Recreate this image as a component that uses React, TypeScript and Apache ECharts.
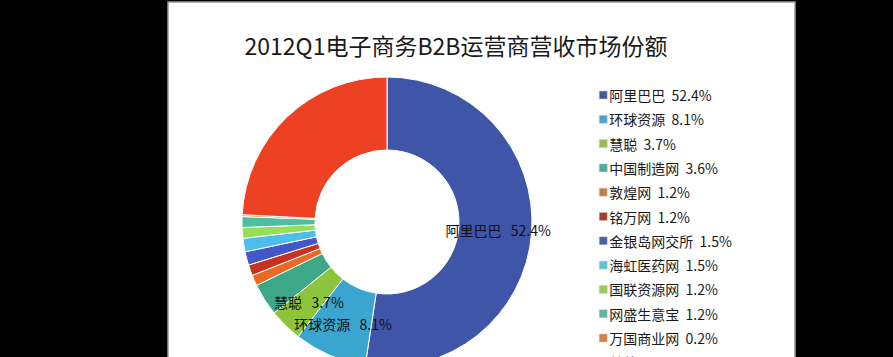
import React, { useEffect, useRef } from "react";
import * as echarts from "echarts";

const titleText = "2012Q1电子商务B2B运营商营收市场份额";
const categories = [
  "阿里巴巴",
  "环球资源",
  "慧聪",
  "中国制造网",
  "敦煌网",
  "铭万网",
  "金银岛网交所",
  "海虹医药网",
  "国联资源网",
  "网盛生意宝",
  "万国商业网",
  "其他",
];
const shares = [52.4, 8.1, 3.7, 3.6, 1.2, 1.2, 1.5, 1.5, 1.2, 1.2, 0.2, 24.2];
const sliceColors = [
  "#3f56a8",
  "#3aa6d0",
  "#8cc43c",
  "#3da888",
  "#e86a25",
  "#c8321e",
  "#4457c8",
  "#4dbdeb",
  "#98dd58",
  "#4dbfa0",
  "#e8782f",
  "#ee4022",
];
const legendColors = [
  "#3f5a9a",
  "#4fa3c8",
  "#9bbb59",
  "#4bac98",
  "#c0804a",
  "#a33b2f",
  "#4a5fa0",
  "#66c1d1",
  "#9ccb5a",
  "#5cb5a5",
  "#d4824a",
  "#d8493a",
];
const labelled = ["阿里巴巴", "环球资源", "慧聪"];

export default function App() {
  const ref = useRef<HTMLDivElement>(null);
  useEffect(() => {
    document.body.style.margin = "0";
    document.body.style.background = "#000";
    if (!ref.current) return;
    const chart = echarts.init(ref.current, null, { renderer: "svg" });
    const font = '"Noto Sans CJK SC", "Noto Sans", sans-serif';
    const valueOf: Record<string, number> = {};
    categories.forEach((c, i) => (valueOf[c] = shares[i]));
    chart.setOption({
      animation: false,
      backgroundColor: "#000",
      graphic: [
        {
          type: "rect",
          z: -10,
          shape: { x: 168, y: 2, width: 627, height: 370 },
          style: { fill: "#fff", stroke: "#9a9a9a", lineWidth: 1.5 },
        },
      ],
      title: {
        text: titleText,
        left: 451,
        textAlign: "center",
        top: 28,
        textStyle: {
          fontFamily: font,
          fontSize: 23,
          fontWeight: "normal",
          color: "#1a1a1a",
        },
      },
      legend: {
        orient: "vertical",
        left: 594,
        top: 83,
        height: 600,
        itemWidth: 8,
        itemHeight: 8,
        itemGap: 10.3,
        icon: "rect",
        textStyle: {
          fontFamily: font,
          fontSize: 14,
          lineHeight: 14,
          color: "#1a1a1a",
          padding: [0, 0, 0, -3],
        },
        formatter: (name: string) => `${name}  ${valueOf[name].toFixed(1)}%`,
        data: categories.map((c, i) => ({
          name: c,
          itemStyle: { color: legendColors[i], borderColor: "#ccc", borderWidth: 0.5 },
        })),
      },
      series: [
        {
          type: "pie",
          center: [387, 222],
          radius: [72, 145],
          startAngle: 90,
          clockwise: true,
          avoidLabelOverlap: false,
          labelLine: { show: false },
          itemStyle: { borderColor: "#fff", borderWidth: 1 },
          label: {
            show: true,
            position: "inside",
            fontFamily: font,
            fontSize: 14,
            color: "#111",
            formatter: (p: any) =>
              labelled.includes(p.name) ? `${p.name}   ${p.value.toFixed(1)}%` : "",
          },
          data: categories.map((c, i) => ({
            name: c,
            value: shares[i],
            itemStyle: { color: sliceColors[i] },
          })),
        },
      ],
    });
    return () => chart.dispose();
  }, []);
  return <div ref={ref} style={{ width: 893, height: 357 }} />;
}
